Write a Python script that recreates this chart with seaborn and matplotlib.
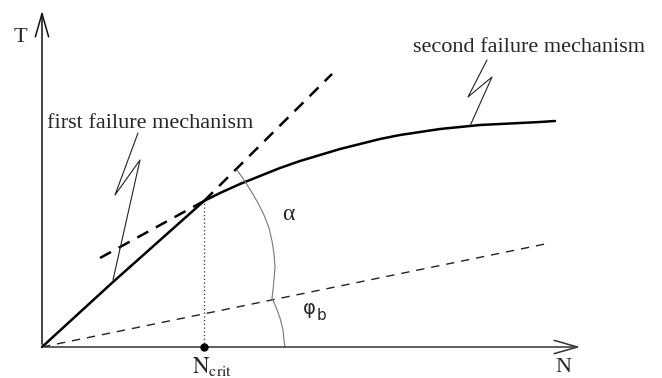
import matplotlib
matplotlib.use("Agg")
import matplotlib.pyplot as plt
import seaborn as sns
import pandas as pd

# schematic coordinates: N to the right, T upward, origin at axes crossing
first_n = [0, 71, 162]
first_t = [0, 65, 146]
second_n = [162, 178, 198, 218, 238, 258, 278, 298, 318, 338, 358, 378, 398, 418, 438, 458, 478, 498, 513]
second_t = [146, 154, 163, 171, 179, 186, 192, 198, 203, 208, 212, 215, 218, 220, 222, 223, 224, 225, 226]
ext_n = [162, 290]
ext_t = [146, 273]
tangent_n = [58, 162]
tangent_t = [89, 146]
phib_n = [0, 508]
phib_t = [0, 104]
alpha_arc_n = [195, 202, 209, 216, 222, 227, 230, 232, 233, 232, 231, 230]
alpha_arc_t = [177, 167, 156, 144, 132, 119, 106, 93, 80, 67, 57, 49]
phi_arc_n = [230, 234, 238, 241, 242, 243]
phi_arc_t = [49, 40, 29, 17, 7, 0]
lead1_n = [96, 73, 98, 71]
lead1_t = [214, 152, 187, 67]
lead2_n = [445, 426, 450, 428]
lead2_t = [287, 250, 270, 221]
n_crit = 162

sns.set_theme(style="white")
plt.rcParams["mathtext.fontset"] = "stix"
serif = ["Liberation Serif", "DejaVu Serif"]

fig = plt.figure(figsize=(6.62, 3.78), dpi=100)
ax = fig.add_axes([0, 0, 1, 1])
ax.set_xlim(-42, 620)
ax.set_ylim(-31, 347)
ax.axis("off")

def line(n, t, **kw):
    df = pd.DataFrame({"N": n, "T": t})
    sns.lineplot(data=df, x="N", y="T", sort=False, estimator=None, ax=ax, **kw)

# axes with open arrows
ax.annotate("", xy=(541, 0), xytext=(0, 0),
            arrowprops=dict(arrowstyle="->,head_length=1.4,head_width=0.4", color="#333333", lw=1.1))
ax.annotate("", xy=(0, 339), xytext=(0, 0),
            arrowprops=dict(arrowstyle="->,head_length=1.4,head_width=0.4", color="#111111", lw=1.1))

line(first_n, first_t, color="black", lw=1.8)
line(second_n, second_t, color="black", lw=1.8)
line(ext_n, ext_t, color="black", lw=1.8, dashes=(5, 3.5))
line(tangent_n, tangent_t, color="black", lw=1.8, dashes=(5, 3.5))
line(phib_n, phib_t, color="#222222", lw=1.0, dashes=(6, 5))
line([n_crit, n_crit], [0, first_t[-1]], color="#333333", lw=0.9, dashes=(1, 2))
line(alpha_arc_n, alpha_arc_t, color="#777777", lw=0.8)
line(phi_arc_n, phi_arc_t, color="#777777", lw=0.8)
line(lead1_n, lead1_t, color="#222222", lw=0.8)
line(lead2_n, lead2_t, color="#222222", lw=0.8)

ax.plot([n_crit], [0], "o", color="black", ms=5, zorder=5)

ax.text(-22, 309, "T", family=serif, fontsize=16, ha="center", va="center")
ax.text(521, -21, "N", family=serif, fontsize=16, ha="center", va="center")
ax.text(150, -20, r"$\mathrm{N_{crit}}$", fontsize=16.5, ha="left", va="center")
ax.text(246, 132, "α", family=serif, fontsize=17, ha="center", va="center")
ax.text(261, 38, "φ", family=["DejaVu Sans"], fontsize=14, ha="left", va="center")
ax.text(275, 32, "b", family=["DejaVu Sans"], fontsize=11, ha="left", va="center")
ax.text(5, 219, "first failure mechanism", family=serif, fontsize=16, ha="left", va="baseline")
ax.text(371, 295, "second failure mechanism", family=serif, fontsize=16, ha="left", va="baseline")

fig.savefig("out.png", dpi=100)
